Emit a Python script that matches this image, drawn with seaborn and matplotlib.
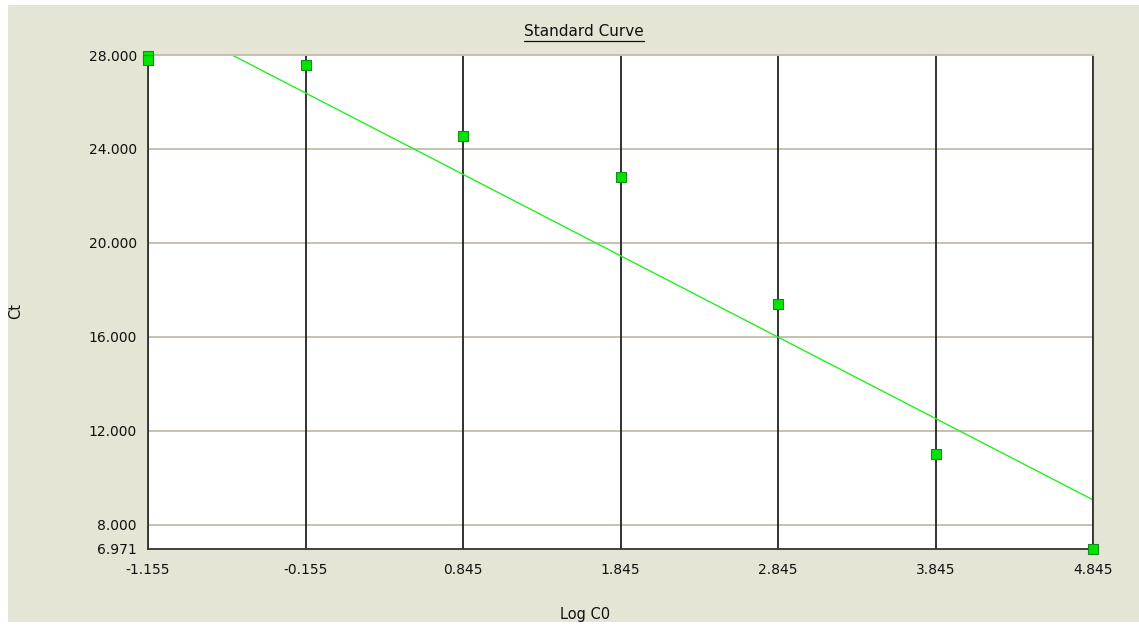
import numpy as np
import pandas as pd
import matplotlib
matplotlib.use("Agg")
import matplotlib.pyplot as plt
from matplotlib.patches import Rectangle
from matplotlib.lines import Line2D
import seaborn as sns

# ---- data ----
log_c0 = [-1.155, -1.155, -0.155, 0.845, 1.845, 2.845, 3.845, 4.845]
ct = [27.95, 27.78, 27.57, 24.55, 22.81, 17.40, 11.01, 6.971]
x_ticks = [-1.155, -0.155, 0.845, 1.845, 2.845, 3.845, 4.845]
y_ticks = [6.971, 8.0, 12.0, 16.0, 20.0, 24.0, 28.0]
title = "Standard Curve"
x_label = "Log C0"
y_label = "Ct"

df = pd.DataFrame({"Log C0": log_c0, "Ct": ct})

sns.set_theme(style="white")
plt.rcParams["font.family"] = ["DejaVu Sans"]

W, H = 1139, 626
fig = plt.figure(figsize=(W / 100, H / 100), dpi=100)
fig.patch.set_facecolor("white")
bg = "#E5E5D5"
fig.patches.append(Rectangle((8 / W, 4 / H), 1 - 8 / W, 1 - 9 / H,
                             transform=fig.transFigure, facecolor=bg,
                             edgecolor="none", zorder=-10))

ax = fig.add_axes([148 / W, 1 - 549 / H, (1093 - 148) / W, (549 - 55) / H])
ax.set_facecolor("white")
ax.set_xlim(x_ticks[0], x_ticks[-1])
ax.set_ylim(y_ticks[0], y_ticks[-1])

# grid lines
for yv in y_ticks[1:]:
    ax.axhline(yv, color="#C6C2AE", lw=1.4, zorder=1)
for xv in x_ticks:
    ax.axvline(xv, color="#222222", lw=1.3, zorder=1)

# regression line
sns.regplot(data=df, x="Log C0", y="Ct", ax=ax, scatter=False, ci=None,
            truncate=True, line_kws=dict(color="#22EE22", lw=1.0, zorder=2))

sns.scatterplot(data=df, x="Log C0", y="Ct", ax=ax, marker="s", s=50,
                color="#00E600", edgecolor="#1A8A1A", linewidth=0.8,
                zorder=5, clip_on=False)

ax.set_xticks(x_ticks)
ax.set_xticklabels([f"{v:.3f}" for v in x_ticks])
ax.set_yticks(y_ticks)
ax.set_yticklabels([f"{v:.3f}" for v in y_ticks])
ax.tick_params(axis="both", length=0, labelsize=10, colors="#111111")
ax.tick_params(axis="x", pad=10)
ax.tick_params(axis="y", pad=8)
ax.set_xlabel("")
ax.set_ylabel("")

for side in ["left", "right", "bottom"]:
    ax.spines[side].set_visible(True)
    ax.spines[side].set_color("#333333")
    ax.spines[side].set_linewidth(1.3)
ax.spines["top"].set_color("#C6C2AE")
ax.spines["top"].set_linewidth(1.4)

# title with underline
t = fig.text(584 / W, 1 - 32 / H, title, ha="center", va="center", fontsize=11,
             color="#111111")
fig.canvas.draw()
bb = t.get_window_extent()
fig.lines.append(Line2D([bb.x0 / W, bb.x1 / W], [(bb.y0 - 1) / H, (bb.y0 - 1) / H],
                        transform=fig.transFigure, color="#111111", lw=0.9))

fig.text(585 / W, 1 - 615 / H, x_label, ha="center", va="center", fontsize=10.5,
         color="#111111")
fig.text(16 / W, 1 - 311 / H, y_label, ha="center", va="center", fontsize=10.5,
         rotation=90, color="#111111")

fig.savefig("out.png", dpi=100, facecolor=fig.get_facecolor())
